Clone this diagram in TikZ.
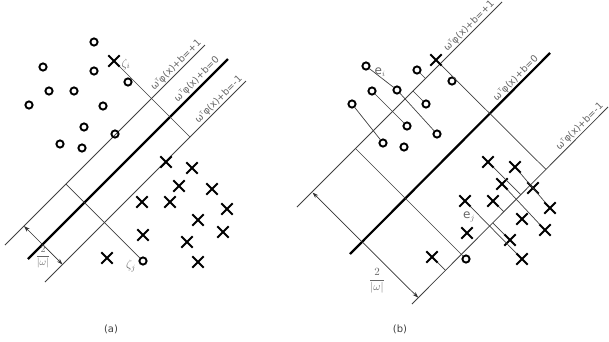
\documentclass[tikz,border=0pt]{standalone}
\usepackage{fontspec}
\setmainfont{DejaVu Sans}
\usetikzlibrary{calc,shapes.misc,arrows.meta}
\tikzset{
  margin/.style={line width=0.8pt, black!75},
  hyper/.style={line width=2.2pt, black},
  slack/.style={line width=0.7pt, black!75},
  circ/.style={circle, draw=black, line width=1.9pt, minimum size=7.2pt, inner sep=0pt},
  crs/.style={cross out, draw=black, line width=1.9pt, minimum size=9.4pt, inner sep=0pt},
  lbl/.style={rotate=45, anchor=south east, inner sep=1.2pt, text=black!60, font=\fontsize{9.6}{10}\selectfont},
  glabel/.style={text=black!60, inner sep=0pt, font=\fontsize{12}{13}\selectfont},
  dim/.style={line width=0.7pt, black!80, {Stealth[length=6pt,width=4pt]}-{Stealth[length=6pt,width=4pt]}},
  captext/.style={text=black!75, font=\fontsize{10}{12}\selectfont}
}
\newcommand{\eqlab}[1]{ω\raisebox{0.7ex}{\fontsize{5}{5}\selectfont T}φ(x)+b=#1}
\begin{document}
\begin{tikzpicture}[x=1pt,y=-1pt]
\useasboundingbox (0,0) rectangle (609,341);
% ================= panel (a) =================
\coordinate (aU1) at (5,245);   \coordinate (aU2) at (205,45);
\coordinate (aM1) at (28,259);  \coordinate (aM2) at (228,59);
\coordinate (aL1) at (45,282);  \coordinate (aL2) at (246,81);
\draw[margin] (aU1) -- (aU2);
\draw[hyper] (aM1) -- (aM2);
\draw[margin] (aL1) -- (aL2);
\node[lbl] at (aU2) {\eqlab{+1}};
\node[lbl] at ($(aM2)+(-5,3)$) {\eqlab{0}};
\node[lbl] at (aL2) {\eqlab{-1}};
% circles (a)
\foreach \n/\x/\y in {a1/94/42, a2/43/67, a3/94/71, a4/128/82, a5/49/91, a6/74/91, a7/29/105, a8/103/106, a9/84/127, a10/115/134, a11/60/144, a12/82/148, aj/143/261}
  \node[circ] (\n) at (\x,\y) {};
% crosses (a)
\foreach \n/\x/\y in {ai/114/61, ax1/166/162, ax2/192/168, ax3/179/186, ax4/212/189, ax5/142/202, ax6/170/202, ax7/227/209, ax8/198/220, ax9/223/232, ax10/143/235, ax11/187/242, ax12/107/258, ax13/198/262}
  \node[crs] (\n) at (\x,\y) {};
\coordinate (aiF) at ($(aL1)!(ai)!(aL2)$);
\coordinate (ajF) at ($(aU1)!(aj)!(aU2)$);
\draw[slack] (ai) -- (aiF);
\draw[slack] (ajF) -- (aj);
\node[glabel] (zi) at (126,64) {$\zeta_i$};
\node[glabel] (zj) at (131,266) {$\zeta_j$};
\coordinate (aA1) at (24,226);
\coordinate (aA2) at ($(aL1)!(aA1)!(aL2)$);
\draw[dim] (aA1) -- (aA2);
\node[glabel, font=\fontsize{10}{11}\selectfont] (aw) at (43,257) {$\displaystyle\frac{2}{|\omega|}$};
\node[captext] (capa) at (111,329) {(a)};
% ================= panel (b) =================
\coordinate (bU1) at (297,207); \coordinate (bU2) at (502,2);
\coordinate (bM1) at (350,254); \coordinate (bM2) at (550,53);
\coordinate (bL1) at (412,304); \coordinate (bL2) at (608,107);
\draw[margin] (bU1) -- (bU2);
\draw[hyper] (bM1) -- (bM2);
\draw[margin] (bL1) -- (bL2);
\node[lbl] at ($(bU2)+(-4,4)$) {\eqlab{+1}};
\node[lbl] at ($(bM2)+(-8,8)$) {\eqlab{0}};
\node[lbl] at ($(bL2)+(-1,1)$) {\eqlab{-1}};
\foreach \n/\x/\y in {b1/366/66, b2/417/70, b3/452/81, b4/372/91, b5/397/90, b6/426/104, b7/352/104, b8/407/126, b9/437/134, b10/383/143, b11/404/147, bj/466/259}
  \node[circ] (\n) at (\x,\y) {};
\foreach \n/\x/\y in {bi/436/60, bx1/488/162, bx2/515/167, bx3/502/184, bx4/533/188, bx5/550/208, bx6/465/201, bx7/493/201, bx8/522/219, bx9/545/230, bx10/467/233, bx11/510/240, bx12/432/257, bx13/522/259}
  \node[crs] (\n) at (\x,\y) {};
% slack lines, circles
\draw[slack] (b1) -- (b5);
\draw[slack] (b5) -- (b9);
\draw[slack] (b4) -- (b8);
\draw[slack] (b7) -- (b10);
\draw[slack] (b2) -- ($(bU1)!(b2)!(bU2)$);
\draw[slack] (b6) -- ($(bU1)!(b6)!(bU2)$);
\draw[slack] (bj) -- ($(bU1)!(bj)!(bU2)$);
% slack lines, crosses
\draw[slack] (bi) -- ($(bL1)!(bi)!(bL2)$);
\draw[slack] (bx6) -- (bx13);
\draw[slack] (bx11) -- ($(bL1)!(bx11)!(bL2)$);
\draw[slack] (bx3) -- (bx9);
\draw[slack] (bx2) -- (bx5);
\draw[slack] (bx1) -- ($(bL1)!(bx1)!(bL2)$);
\draw[slack] (bx7) -- ($(bL1)!(bx7)!(bL2)$);
\draw[slack] (bx12) -- ($(bL1)!(bx12)!(bL2)$);
\node[glabel] (ei) at (380,72) {e$_i$};
\node[glabel] (ej) at (469,217) {e$_j$};
\coordinate (bA1) at (312.5,192.5);
\coordinate (bA2) at ($(bL1)!(bA1)!(bL2)$);
\draw[dim] (bA1) -- (bA2);
\node[glabel, font=\fontsize{11}{12}\selectfont] (bw) at (377,281) {$\displaystyle\frac{2}{|\omega|}$};
\node[captext] (capb) at (400,329) {(b)};
\end{tikzpicture}
\end{document}
